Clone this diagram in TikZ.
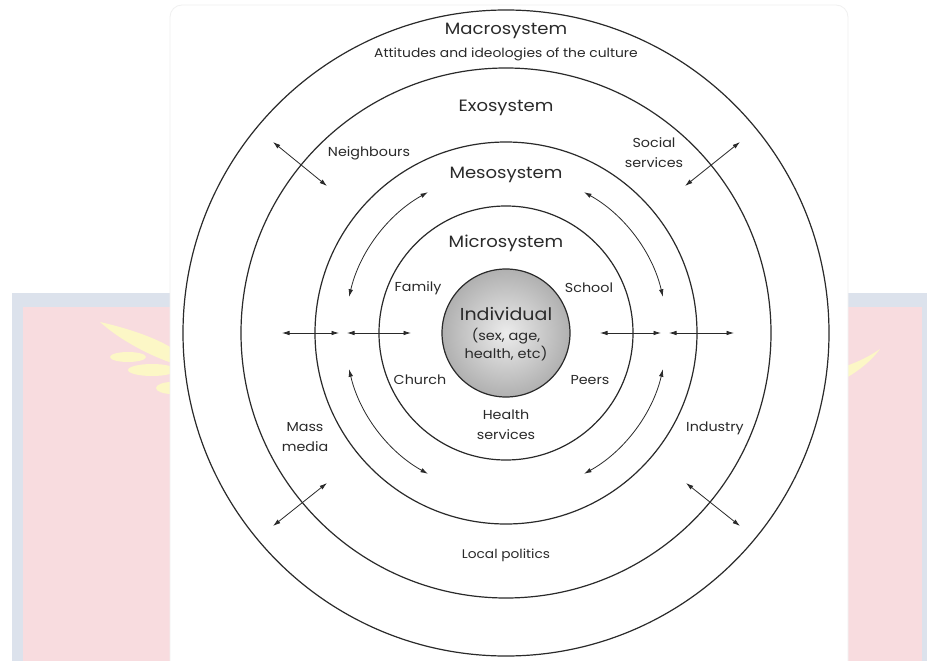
\documentclass[tikz,border=0pt]{standalone}
\usepackage{fontspec}
\setmainfont{Poppins}[FakeStretch=1.1]
\usetikzlibrary{arrows.meta}
\definecolor{bandblue}{HTML}{DCE2EC}
\definecolor{bandpink}{HTML}{F8DCDF}
\definecolor{wingy}{HTML}{FCF7C6}
\definecolor{ink}{HTML}{2A2A2A}
\begin{document}
\begin{tikzpicture}[x=1pt,y=-1pt,
  ring/.style={circle, draw=ink, line width=1.2pt, inner sep=0pt},
  arr/.style={draw=ink, line width=0.8pt, {Latex[length=7.5pt,width=4.6pt]}-{Latex[length=7.5pt,width=4.6pt]}},
  big/.style={font=\fontsize{16.4}{18}\selectfont, text=ink, inner sep=1pt},
  lbl/.style={font=\fontsize{13}{20}\selectfont, text=ink, align=center, inner sep=1pt},
  small/.style={font=\fontsize{12.6}{14}\selectfont, text=ink, align=center, inner sep=1pt}]
\useasboundingbox (0,0) rectangle (927,661);
\fill[white] (0,0) rectangle (927,661);
% watermark band
\fill[bandblue] (12,293) rectangle (927,661);
\fill[bandpink] (23,307) rectangle (922,661);
\fill[wingy] (100,322) .. controls (135,330) and (160,340) .. (175,350) -- (175,364) .. controls (150,356) and (120,340) .. (100,322) -- cycle;
\fill[wingy] (128,357) ellipse [x radius=18, y radius=5];
\fill[wingy] (152,370) ellipse [x radius=24, y radius=6];
\fill[wingy] (172,388) ellipse [x radius=16, y radius=6];
\fill[wingy] (880,349) .. controls (870,356) and (858,362) .. (846,366) -- (846,378) .. controls (860,370) and (872,360) .. (880,349) -- cycle;
% card
\filldraw[fill=white, draw=gray!12, line width=0.8pt, rounded corners=12pt] (170,5) rectangle (848,680);
% rings
\coordinate (c) at (506,333);
\node[ring, minimum size=646pt] (macro) at (c) {};
\node[ring, minimum size=530pt] (exo) at (c) {};
\node[ring, minimum size=382pt] (meso) at (c) {};
\node[ring, minimum size=254pt] (micro) at (c) {};
\node[circle, draw=ink, line width=1.2pt, minimum size=128pt, inner sep=0pt,
      inner color=gray!15, outer color=gray!62] (ind) at (c) {};
% texts
\node[big] (tmacro) at (506,31) {Macrosystem};
\node[small] (tatt) at (506,54) {Attitudes and ideologies of the culture};
\node[big] (texo) at (506,108) {Exosystem};
\node[big] (tmeso) at (506,175) {Mesosystem};
\node[big] (tmicro) at (506,243) {Microsystem};
\node[lbl] (tneigh) at (369,153) {Neighbours};
\node[lbl] (tsocial) at (654,153) {Social\\services};
\node[lbl] (tfam) at (418,288) {Family};
\node[lbl] (tsch) at (589,288) {School};
\node[lbl] (tchu) at (420,380) {Church};
\node[lbl] (tpeer) at (590,380) {Peers};
\node[lbl] (thealth) at (506,425) {Health\\services};
\node[lbl] (tmass) at (305,437) {Mass\\media};
\node[lbl] (tind2) at (715,428) {Industry};
\node[font=\fontsize{12.5}{14}\selectfont, text=ink, inner sep=1pt] (tlocal) at (506,555) {Local politics};
\node[font=\fontsize{17.3}{19}\selectfont, text=ink, inner sep=0pt] (tind) at (506,314) {Individual};
\node[font=\fontsize{13.2}{18}\selectfont, text=ink, align=center, inner sep=0pt] (tindsub) at (506,345) {(sex, age,\\health, etc)};
% straight arrows
\coordinate (h1a) at (282,333); \coordinate (h1b) at (339,333);
\coordinate (h2a) at (347,333); \coordinate (h2b) at (411,333);
\coordinate (h3a) at (600,333); \coordinate (h3b) at (661,333);
\coordinate (h4a) at (669,333); \coordinate (h4b) at (734,333);
\draw[arr] (h1a) -- (h1b);
\draw[arr] (h2a) -- (h2b);
\draw[arr] (h3a) -- (h3b);
\draw[arr] (h4a) -- (h4b);
\coordinate (nwa) at (273,142); \coordinate (nwb) at (327,186);
\coordinate (nea) at (685,186); \coordinate (neb) at (740,142);
\coordinate (swa) at (273,526); \coordinate (swb) at (327,483);
\coordinate (sea) at (686,483); \coordinate (seb) at (740,526);
\draw[arr] (nwa) -- (nwb);
\draw[arr] (nea) -- (neb);
\draw[arr] (swa) -- (swb);
\draw[arr] (sea) -- (seb);
% curved arrows in mesosystem band
\draw[arr] (c) ++(-167:161) arc[start angle=-167, end angle=-119, radius=161];
\draw[arr] (c) ++(-61:161) arc[start angle=-61, end angle=-13, radius=161];
\draw[arr] (c) ++(167:161) arc[start angle=167, end angle=119, radius=161];
\draw[arr] (c) ++(13:161) arc[start angle=13, end angle=61, radius=161];
\end{tikzpicture}
\end{document}
